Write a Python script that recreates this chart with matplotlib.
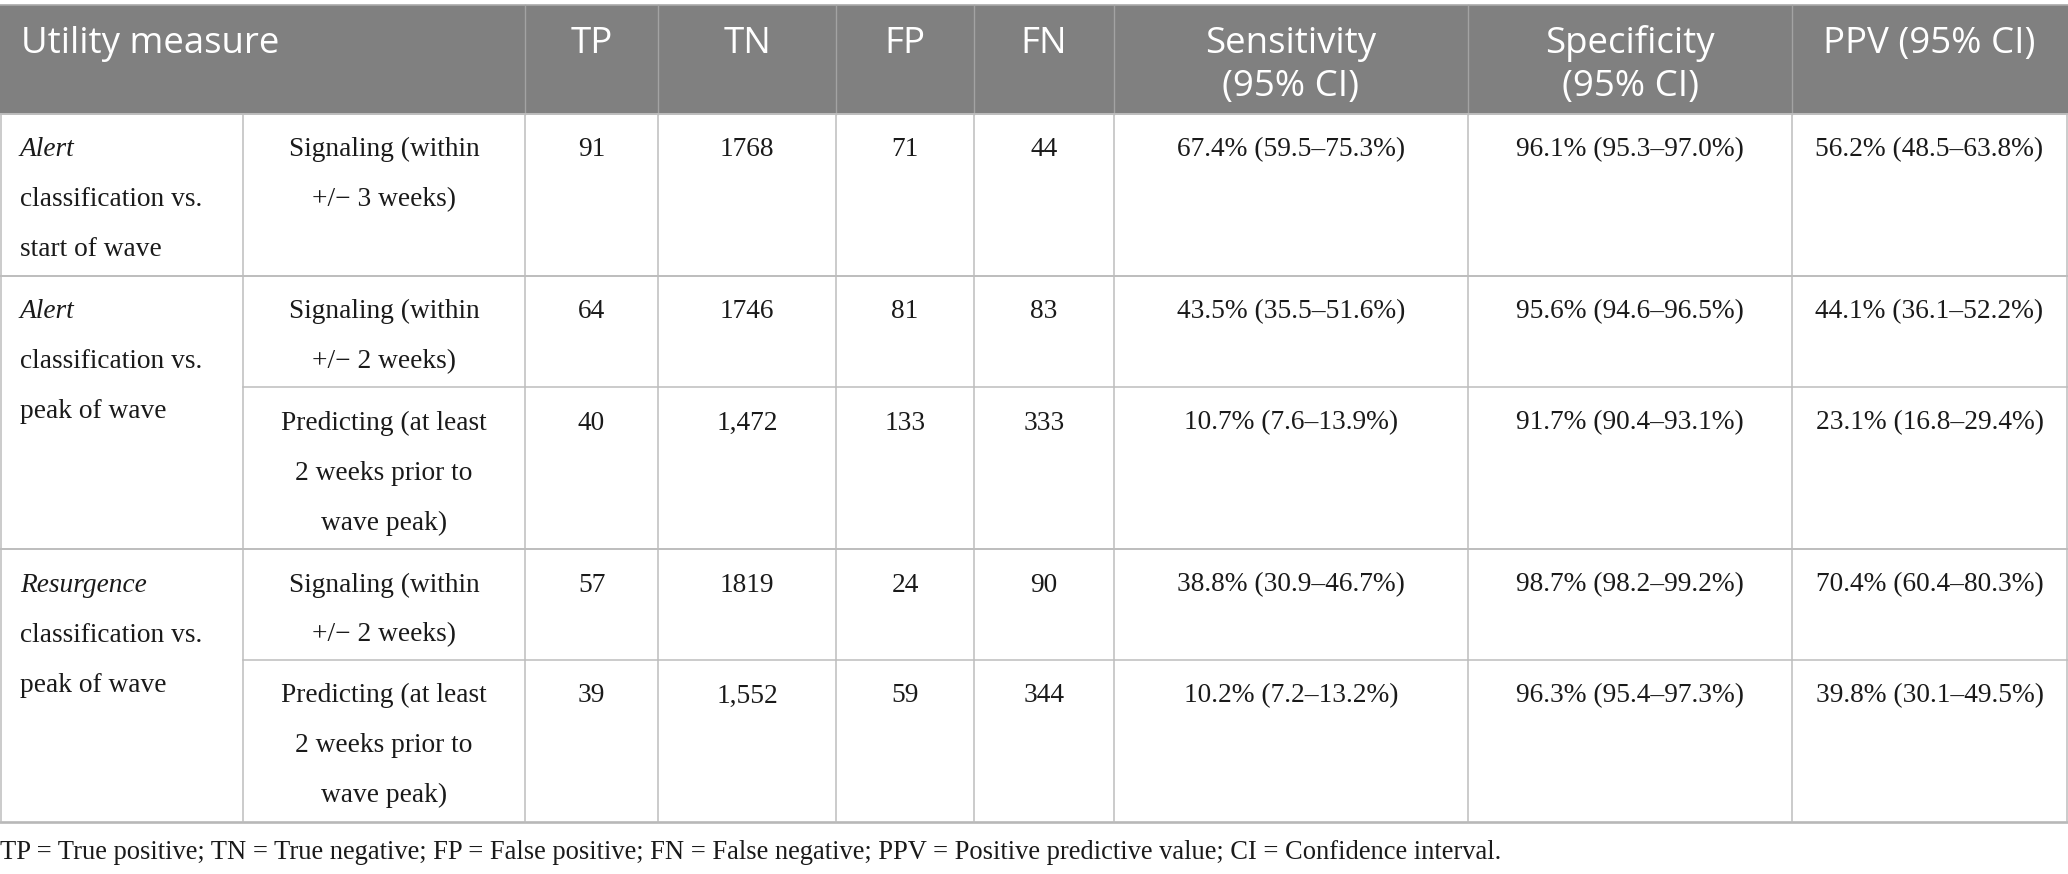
import matplotlib
matplotlib.use("Agg")
import matplotlib.pyplot as plt
from matplotlib.patches import Rectangle

# ---------------- data ----------------
headers = [["Utility measure"], ["TP"], ["TN"], ["FP"], ["FN"],
           ["Sensitivity", "(95% CI)"], ["Specificity", "(95% CI)"], ["PPV (95% CI)"]]

group_italic = ["Alert", "Alert", "Resurgence"]
group_rest = [["classification vs.", "start of wave"],
              ["classification vs.", "peak of wave"],
              ["classification vs.", "peak of wave"]]
group_span = [(0, 1), (1, 3), (3, 5)]          # sub-rows covered by each group

measures = [["Signaling (within", "+/\u2212 3 weeks)"],
            ["Signaling (within", "+/\u2212 2 weeks)"],
            ["Predicting (at least", "2 weeks prior to", "wave peak)"],
            ["Signaling (within", "+/\u2212 2 weeks)"],
            ["Predicting (at least", "2 weeks prior to", "wave peak)"]]

tp = ["91", "64", "40", "57", "39"]
tn = ["1768", "1746", "1,472", "1819", "1,552"]
fp = ["71", "81", "133", "24", "59"]
fn = ["44", "83", "333", "90", "344"]
sensitivity = ["67.4% (59.5\u201375.3%)", "43.5% (35.5\u201351.6%)", "10.7% (7.6\u201313.9%)",
               "38.8% (30.9\u201346.7%)", "10.2% (7.2\u201313.2%)"]
specificity = ["96.1% (95.3\u201397.0%)", "95.6% (94.6\u201396.5%)", "91.7% (90.4\u201393.1%)",
               "98.7% (98.2\u201399.2%)", "96.3% (95.4\u201397.3%)"]
ppv = ["56.2% (48.5\u201363.8%)", "44.1% (36.1\u201352.2%)", "23.1% (16.8\u201329.4%)",
       "70.4% (60.4\u201380.3%)", "39.8% (30.1\u201349.5%)"]

footnote = ("TP = True positive; TN = True negative; FP = False positive; FN = False negative; "
            "PPV = Positive predictive value; CI = Confidence interval.")

# ---------------- layout (pixels) ----------------
W, H = 2068, 874
col_x = [0, 243, 525, 658, 836, 974, 1114, 1468, 1792, 2067]
head_top, head_bot = 4.5, 114
row_tops = [114, 276, 387, 549, 660]
table_bot = 822

HEAD_FONT = dict(family=["Open Sans", "DejaVu Sans"], size=26.4, color="white")
BODY_FONT = dict(family=["Liberation Serif", "DejaVu Serif"], size=19.7, color="#1a1a1a")
FOOT_FONT = dict(family=["Liberation Serif", "DejaVu Serif"], size=19.1, color="#1a1a1a")

fig = plt.figure(figsize=(W / 100, H / 100), dpi=100)
ax = fig.add_axes([0, 0, 1, 1])
ax.set_xlim(0, W)
ax.set_ylim(H, 0)
ax.axis("off")

# header background
ax.add_patch(Rectangle((0, head_top), W, head_bot - head_top, facecolor="#808080",
                       edgecolor="none", zorder=0))
ax.plot([0, W], [head_top, head_top], color="#a9a9a9", lw=1.2, zorder=2)
# header vertical separators
for x in col_x[2:-1]:
    ax.plot([x, x], [head_top, head_bot], color="#a3a3a3", lw=1.0, zorder=2)

# header text
head_cols = [(col_x[0], col_x[2])] + [(col_x[i], col_x[i + 1]) for i in range(2, 9)]
for i, (lines, (x0, x1)) in enumerate(zip(headers, head_cols)):
    for j, line in enumerate(lines):
        y = 53 + 43 * j
        if i == 0:
            ax.text(21, y, line, ha="left", va="baseline", **HEAD_FONT)
        else:
            ax.text((x0 + x1) / 2, y, line, ha="center", va="baseline", **HEAD_FONT)

grid = "#bdbdbd"
lw_grid = 1.1
row_bounds = row_tops + [table_bot]

# horizontal lines
ax.plot([0, W], [head_bot, head_bot], color=grid, lw=1.4, zorder=2)
for gi, (a, b) in enumerate(group_span):
    if gi > 0:
        ax.plot([0, W], [row_bounds[a], row_bounds[a]], color=grid, lw=1.4, zorder=2)
    for k in range(a + 1, b):
        ax.plot([col_x[1], W], [row_bounds[k], row_bounds[k]], color=grid, lw=lw_grid, zorder=2)
ax.plot([0, W], [table_bot, table_bot], color="#b8b8b8", lw=1.9, zorder=2)

# vertical lines in body
for x in col_x:
    xx = x + (0.6 if x == 0 else 0)
    ax.plot([xx, xx], [head_bot, table_bot], color=grid, lw=lw_grid, zorder=2)

BASE_OFF = 42.5
STEP = 50

# group labels
for gi, (a, b) in enumerate(group_span):
    top = row_bounds[a]
    ax.text(20, top + BASE_OFF, group_italic[gi], ha="left", va="baseline",
            style="italic", **BODY_FONT)
    for j, line in enumerate(group_rest[gi]):
        ax.text(20, top + BASE_OFF + STEP * (j + 1), line, ha="left", va="baseline", **BODY_FONT)

# sub-rows
value_cols = [tp, tn, fp, fn, sensitivity, specificity, ppv]
for r in range(len(measures)):
    top = row_bounds[r]
    cx = (col_x[1] + col_x[2]) / 2
    for j, line in enumerate(measures[r]):
        ax.text(cx, top + BASE_OFF + STEP * j, line, ha="center", va="baseline", **BODY_FONT)
    for c, vals in enumerate(value_cols):
        x0, x1 = col_x[c + 2], col_x[c + 3]
        ax.text((x0 + x1) / 2, top + BASE_OFF, vals[r], ha="center", va="baseline", **BODY_FONT)

# footnote
ax.text(0, 859, footnote, ha="left", va="baseline", **FOOT_FONT)

fig.savefig("out.png", dpi=100, facecolor="white")
